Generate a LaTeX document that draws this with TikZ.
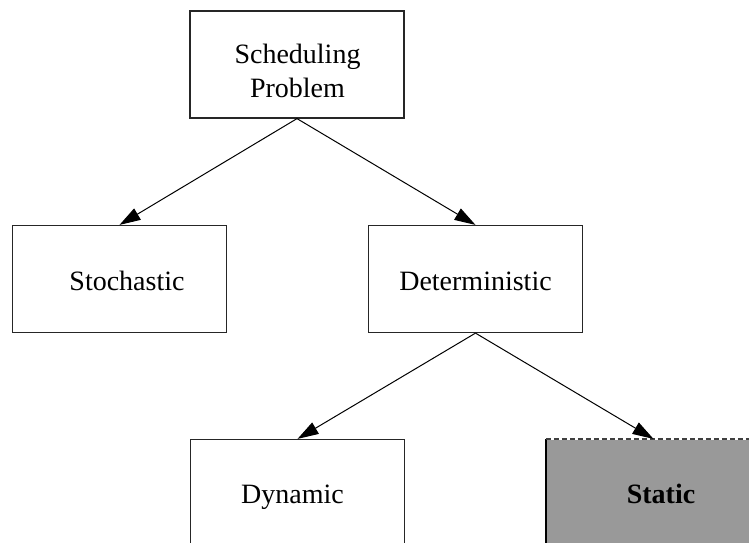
\documentclass[tikz,border=0pt]{standalone}
\usepackage{fontspec}
\setmainfont{Liberation Serif}
\usetikzlibrary{arrows.meta}
\begin{document}
\begin{tikzpicture}[x=1pt,y=-1pt,
  box/.style={draw=black!85, line width=1.2pt, minimum width=214pt, minimum height=107pt, inner sep=0pt},
  txt/.style={inner sep=0pt, align=center, font=\fontsize{28}{34}\selectfont},
  conn/.style={line width=1pt, -{Triangle[length=21pt,width=13pt]}}]
\useasboundingbox (0,0) rectangle (749,542);
\clip (0,0) rectangle (749,542);
\node[box] (sched) at (297,64.5) {};
\node[box] (stoch) at (119.5,279) {};
\node[box] (det) at (475.5,279) {};
\node[box] (dyn) at (297.5,493) {};
\node[box, draw=none, fill=black!40] (stat) at (653.5,493) {};
\draw[line width=1.2pt, black] (stat.north west) -- (stat.south west);
\draw[line width=1.2pt, black!75, dash pattern=on 5pt off 3pt] (stat.north west) -- (stat.north east);
\node[txt] (schedT) at (297.5,71) {Scheduling\\Problem};
\node[txt, anchor=base] (stochT) at (127,290) {Stochastic};
\node[txt, anchor=base] (detT) at (475.5,290) {Deterministic};
\node[txt, anchor=base] (dynT) at (292.5,503) {Dynamic};
\node[txt, anchor=base, font=\fontsize{28}{34}\selectfont\bfseries] (statT) at (661,503) {Static};
\draw[conn] (sched.south) -- (stoch.north);
\draw[conn] (sched.south) -- (det.north);
\draw[conn] (det.south) -- (dyn.north);
\draw[conn] (det.south) -- (stat.north);
\end{tikzpicture}
\end{document}
